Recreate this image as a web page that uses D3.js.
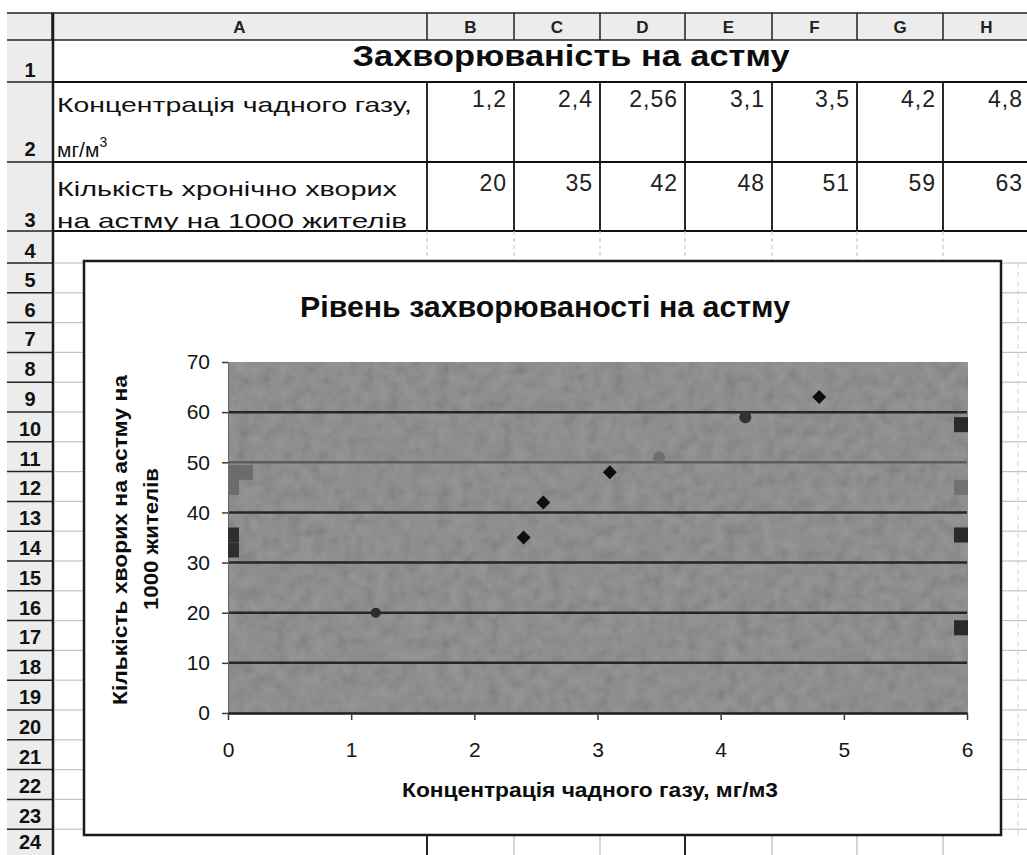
<!DOCTYPE html>
<html lang="uk">
<head>
<meta charset="utf-8">
<title>Захворюваність на астму</title>
<script src="https://cdn.jsdelivr.net/npm/d3@7"></script>
<style>
  body { margin: 0; background: #fff; }
  svg { display: block; font-family: Arial, "Liberation Sans", sans-serif; }
  .axis text { font-size: 21px; fill: #151515; font-family: Arial, "Liberation Sans", sans-serif; }
  .axis line { stroke: #3a3a3a; stroke-width: 1.5; }
</style>
</head>
<body>
<script>
// ---- data from the sheet ----
var concentration = [1.2, 2.4, 2.56, 3.1, 3.5, 4.2, 4.8];
var patients = [20, 35, 42, 48, 51, 59, 63];
var columnLetters = ["A", "B", "C", "D", "E", "F", "G", "H"];
var rowLabels = d3.range(1, 25);
var xTicks = [0, 1, 2, 3, 4, 5, 6];
var yTicks = [0, 10, 20, 30, 40, 50, 60, 70];
var gridValues = [10, 20, 30, 40, 50, 60];
// stray square markers sitting on the plot edges (x = 0 and x = 6)
var leftDark = [35.5, 32.5];
var leftLight = [48, 45];
var rightDark = [57.5, 35.5, 17];
var rightLight = [45];

var W = 1027, H = 855;
var fmt = d3.formatLocale({ decimal: ",", thousands: " ", grouping: [3], currency: ["", ""] }).format("~g");

var svg = d3.select("body").append("svg").attr("width", W).attr("height", H);
svg.append("rect").attr("width", W).attr("height", H).attr("fill", "#fff");

// noise filter for the scanned grey plot area
var defs = svg.append("defs");
var noise = defs.append("filter").attr("id", "grain")
    .attr("x", 0).attr("y", 0).attr("width", 1).attr("height", 1);
noise.append("feTurbulence").attr("type", "fractalNoise")
    .attr("baseFrequency", 0.08).attr("numOctaves", 2).attr("seed", 4);
noise.append("feColorMatrix").attr("type", "matrix")
    .attr("values", "1 0 0 0 0  1 0 0 0 0  1 0 0 0 0  0 0 0 0 0.16");

// ---- spreadsheet grid ----
var colX = [52, 427, 514, 600, 685, 772, 857, 943, 1030];
function rowTop(n) {
    var fixed = [13, 40, 82, 162, 231, 263];
    return n <= 5 ? fixed[n] : 263 + (n - 5) * 29.8;
}

svg.append("rect").attr("x", 7).attr("y", 13).attr("width", W - 7).attr("height", 27).attr("fill", "#ececec");
svg.append("rect").attr("x", 7).attr("y", 40).attr("width", 45).attr("height", H - 40).attr("fill", "#ececec");

var grid = svg.append("g");
function hline(x1, x2, y, color, w, dash) {
    grid.append("line").attr("x1", x1).attr("x2", x2).attr("y1", y).attr("y2", y)
        .attr("stroke", color).attr("stroke-width", w).attr("stroke-dasharray", dash || null);
}
function vline(x, y1, y2, color, w, dash) {
    grid.append("line").attr("x1", x).attr("x2", x).attr("y1", y1).attr("y2", y2)
        .attr("stroke", color).attr("stroke-width", w).attr("stroke-dasharray", dash || null);
}

// header row
hline(7, W, 13, "#222", 1.5);
hline(7, W, 40, "#222", 1.5);
colX.forEach(function(x) { vline(x, 13, 40, "#222", 1.5); });
// row header separators
rowLabels.forEach(function(r) { hline(7, 52, rowTop(r + 1), "#222", 1.5); });
vline(53, 13, H, "#1a1a1a", 2.5);
// table borders rows 1..3
hline(52, W, 82, "#111", 1.8);
hline(52, W, 162, "#111", 1.8);
hline(52, W, 231, "#111", 1.8);
colX.slice(1, 8).forEach(function(x) { vline(x, 82, 231, "#111", 1.8); });
// row 4 faint gridlines
colX.slice(1, 8).forEach(function(x) { vline(x, 231, 261, "#bbb", 1, "4 3"); });
// strips left and right of chart
d3.range(5, 25).forEach(function(r) {
    hline(54, 84, rowTop(r), "#c4c4c4", 1.2);
    hline(1001, W, rowTop(r), "#c4c4c4", 1.2);
});
vline(1018, 263, 835, "#d0d0d0", 1, "5 4");
// row 24 below chart
colX.slice(1, 8).forEach(function(x) {
    var dark = (x === 427 || x === 685);
    vline(x, 835, H, dark ? "#222" : "#bbb", dark ? 2 : 1.2);
});

// header letters
svg.append("g").selectAll("text").data(columnLetters).enter().append("text")
    .attr("x", function(d, i) { return (colX[i] + colX[i + 1]) / 2; })
    .attr("y", 33).attr("text-anchor", "middle")
    .attr("font-size", 17).attr("font-weight", "bold").attr("fill", "#222")
    .text(function(d) { return d; });

// row numbers
var labelBase = { 1: 77, 2: 156, 3: 227, 4: 258, 24: 849 };
svg.append("g").selectAll("text").data(rowLabels).enter().append("text")
    .attr("x", 30)
    .attr("y", function(d) { return labelBase[d] || rowTop(d + 1) - 6; })
    .attr("text-anchor", "middle")
    .attr("font-size", 20).attr("font-weight", "bold").attr("fill", "#111")
    .text(function(d) { return d; });

// sheet title (merged A1:H1)
svg.append("text").attr("x", 571).attr("y", 66).attr("text-anchor", "middle")
    .attr("font-size", 29).attr("font-weight", "bold").attr("fill", "#0d0d0d")
    .attr("textLength", 437).attr("lengthAdjust", "spacingAndGlyphs")
    .text("Захворюваність на астму");

// row captions
var cap = svg.append("g").attr("font-size", 21).attr("fill", "#111");
cap.append("text").attr("x", 57).attr("y", 112)
    .attr("textLength", 355).attr("lengthAdjust", "spacingAndGlyphs")
    .text("Концентрація  чадного газу,");
var unit = cap.append("text").attr("x", 57).attr("y", 157);
unit.append("tspan").text("мг/м");
unit.append("tspan").attr("font-size", 14).attr("dy", -10).text("3");
cap.append("text").attr("x", 57).attr("y", 196)
    .attr("textLength", 340).attr("lengthAdjust", "spacingAndGlyphs")
    .text("Кількість хронічно хворих");
cap.append("text").attr("x", 57).attr("y", 228)
    .attr("textLength", 350).attr("lengthAdjust", "spacingAndGlyphs")
    .text("на астму на 1000 жителів");

// values in B2:H3
var vals = svg.append("g").attr("font-size", 23).attr("fill", "#222")
    .attr("text-anchor", "end").attr("letter-spacing", 1);
vals.selectAll("text.c").data(concentration).enter().append("text").attr("class", "c")
    .attr("x", function(d, i) { return colX[i + 2] - 7; })
    .attr("y", 107)
    .text(function(d) { return fmt(d); });
vals.selectAll("text.p").data(patients).enter().append("text").attr("class", "p")
    .attr("x", function(d, i) { return colX[i + 2] - 7; })
    .attr("y", 191)
    .text(function(d) { return d; });

// ---- chart ----
svg.append("rect").attr("x", 84).attr("y", 261).attr("width", 917).attr("height", 574)
    .attr("fill", "#fff").attr("stroke", "#1a1a1a").attr("stroke-width", 2.5);

var x = d3.scaleLinear().domain([0, 6]).range([228, 967]);
var y = d3.scaleLinear().domain([0, 70]).range([713, 362]);

var plotW = x(6) - x(0) + 1, plotH = y(0) - y(70);
svg.append("rect").attr("x", x(0)).attr("y", y(70)).attr("width", plotW).attr("height", plotH)
    .attr("fill", "#858585");
svg.append("rect").attr("x", x(0)).attr("y", y(70)).attr("width", plotW).attr("height", plotH)
    .attr("fill", "#888").attr("filter", "url(#grain)");

// gridlines
svg.append("g").selectAll("line").data(gridValues).enter().append("line")
    .attr("x1", x(0)).attr("x2", x(6))
    .attr("y1", function(d) { return y(d); }).attr("y2", function(d) { return y(d); })
    .attr("stroke", function(d) { return d === 50 ? "#5c5c5c" : "#262626"; })
    .attr("stroke-width", 2.5);

// axes
var yAxis = d3.axisLeft(y).tickValues(yTicks).tickFormat(d3.format("d"))
    .tickSize(6).tickSizeOuter(0).tickPadding(12);
var yg = svg.append("g").attr("class", "axis").attr("transform", "translate(" + x(0) + ",0)").call(yAxis);
yg.select(".domain").attr("stroke", "#666").attr("stroke-width", 1);

var xAxis = d3.axisBottom(x).tickValues(xTicks).tickFormat(d3.format("d"))
    .tickSize(7).tickSizeOuter(0).tickPadding(22);
var xg = svg.append("g").attr("class", "axis").attr("transform", "translate(0," + y(0) + ")").call(xAxis);
xg.select(".domain").attr("stroke", "#1e1e1e").attr("stroke-width", 2.5);

// stray squares at the plot edges
var sq = svg.append("g");
sq.selectAll("rect.ld").data(leftDark).enter().append("rect").attr("class", "ld")
    .attr("x", x(0)).attr("y", function(d) { return y(d) - 7.5; })
    .attr("width", 11).attr("height", 15).attr("fill", "#2e2e2e");
sq.selectAll("rect.ll").data(leftLight).enter().append("rect").attr("class", "ll")
    .attr("x", x(0)).attr("y", function(d) { return y(d) - 7.5; })
    .attr("width", function(d, i) { return i === 0 ? 25 : 11; }).attr("height", 15)
    .attr("fill", "#6c6c6c");
sq.selectAll("rect.rd").data(rightDark).enter().append("rect").attr("class", "rd")
    .attr("x", x(6) - 13).attr("y", function(d) { return y(d) - 7.5; })
    .attr("width", 14).attr("height", 15).attr("fill", "#2a2a2a");
sq.selectAll("rect.rl").data(rightLight).enter().append("rect").attr("class", "rl")
    .attr("x", x(6) - 13).attr("y", function(d) { return y(d) - 7.5; })
    .attr("width", 14).attr("height", 15).attr("fill", "#727272");

// data points
var round = { 0: "#2c2c2c", 4: "#6e6e6e", 5: "#333" };
var pts = svg.append("g").selectAll("g").data(concentration).enter().append("g")
    .attr("transform", function(d, i) { return "translate(" + x(d) + "," + y(patients[i]) + ")"; });
pts.each(function(d, i) {
    var g = d3.select(this);
    if (round[i]) {
        g.append("circle").attr("r", i === 0 ? 5 : 6).attr("fill", round[i]);
    } else {
        g.append("path").attr("d", "M0,-7L7,0L0,7L-7,0Z").attr("fill", "#0e0e0e");
    }
});

// chart titles
svg.append("text").attr("x", 545).attr("y", 317).attr("text-anchor", "middle")
    .attr("font-size", 29).attr("font-weight", "bold").attr("fill", "#0d0d0d")
    .attr("textLength", 490).attr("lengthAdjust", "spacingAndGlyphs")
    .text("Рівень захворюваності на астму");

svg.append("text").attr("x", 590).attr("y", 797).attr("text-anchor", "middle")
    .attr("font-size", 20).attr("font-weight", "bold").attr("fill", "#0d0d0d")
    .attr("textLength", 376).attr("lengthAdjust", "spacingAndGlyphs")
    .text("Концентрація чадного газу, мг/м3");

var yt = svg.append("g").attr("font-size", 20).attr("font-weight", "bold").attr("fill", "#0d0d0d")
    .attr("text-anchor", "middle");
yt.append("text").attr("transform", "translate(127,540) rotate(-90)")
    .attr("textLength", 330).attr("lengthAdjust", "spacingAndGlyphs")
    .text("Кількість хворих на астму на");
yt.append("text").attr("transform", "translate(158,539) rotate(-90)")
    .attr("textLength", 142).attr("lengthAdjust", "spacingAndGlyphs")
    .text("1000 жителів");
</script>
</body>
</html>
